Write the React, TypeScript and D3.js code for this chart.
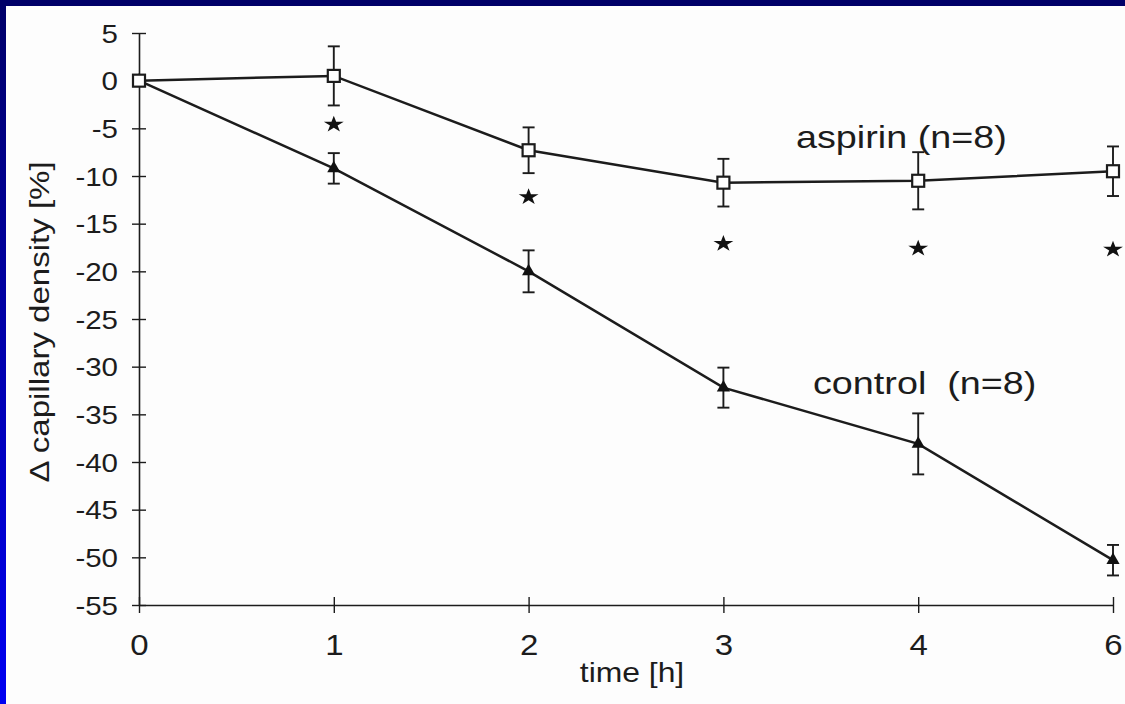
import React, { useEffect, useRef } from "react";
import * as d3 from "d3";

// time points (h) and group means / SD
const timeLabels = ["0", "1", "2", "3", "4", "6"];
const aspirinMean = [0, 0.5, -7.3, -10.7, -10.5, -9.5];
const aspirinErr = [0, 3.1, 2.4, 2.5, 3.0, 2.6];
const controlMean = [0, -9.2, -20.0, -32.2, -38.1, -50.3];
const controlErr = [0, 1.6, 2.2, 2.1, 3.2, 1.6];

// significance stars
const sigTimes = ["1", "2", "3", "4", "6"];
const sigMarkY = [-4.6, -12.2, -17.1, -17.6, -17.7];

const yTicks = [5, 0, -5, -10, -15, -20, -25, -30, -35, -40, -45, -50, -55];

const WIDTH = 1125;
const HEIGHT = 704;
const FONT = "'Liberation Sans', Arial, sans-serif";
const INK = "#1c1c1c";
const SX = 1.18; // the scanned figure is a bit stretched horizontally

const App: React.FC = () => {
  const svgRef = useRef<SVGSVGElement | null>(null);

  useEffect(() => {
    draw();
  }, []);

  const draw = () => {
    if (!svgRef.current) return;
    const svg = d3.select(svgRef.current);
    svg.selectAll("*").remove();

    // frame: white panel with the blue slide border top and left
    const defs = svg.append("defs");
    const grad = defs
      .append("linearGradient")
      .attr("id", "leftBar")
      .attr("x1", 0)
      .attr("y1", 0)
      .attr("x2", 0)
      .attr("y2", 1);
    grad.append("stop").attr("offset", "0%").attr("stop-color", "#000068");
    grad.append("stop").attr("offset", "100%").attr("stop-color", "#0000f2");

    svg.append("rect").attr("width", WIDTH).attr("height", HEIGHT).attr("fill", "#fdfdfd");
    svg.append("rect").attr("width", 6).attr("height", HEIGHT).attr("fill", "url(#leftBar)");
    svg.append("rect").attr("width", WIDTH).attr("height", 6).attr("fill", "#000068");

    const x = d3.scalePoint<string>().domain(timeLabels).range([139, 1113]);
    const y = d3.scaleLinear().domain([-55, 5]).range([605, 33]);

    // y axis (plain hyphen as in the original, not d3's unicode minus)
    const yAxis = svg
      .append("g")
      .attr("transform", `translate(${x("0")},0)`)
      .call(
        d3
          .axisLeft(y)
          .tickValues(yTicks)
          .tickFormat((d) => String(d))
          .tickSizeOuter(0)
          .tickSizeInner(7)
      );
    yAxis.select(".domain").attr("stroke", INK).attr("stroke-width", 1.6);
    yAxis.selectAll(".tick line").attr("x1", 7).attr("x2", -7).attr("stroke", INK).attr("stroke-width", 1.4);
    yAxis
      .selectAll(".tick text")
      .attr("x", null)
      .attr("dy", null)
      .attr("text-anchor", "end")
      .attr("transform", `translate(-21,9) scale(${SX},1)`)
      .attr("font-family", FONT)
      .attr("font-size", 25)
      .attr("fill", INK);

    // x axis
    const xAxis = svg
      .append("g")
      .attr("transform", `translate(0,${y(-55)})`)
      .call(d3.axisBottom(x).tickSizeOuter(0).tickSizeInner(8));
    xAxis.select(".domain").attr("stroke", INK).attr("stroke-width", 1.6);
    xAxis.selectAll(".tick line").attr("y1", -8).attr("y2", 8).attr("stroke", INK).attr("stroke-width", 1.4);
    xAxis
      .selectAll(".tick text")
      .attr("y", null)
      .attr("dy", null)
      .attr("transform", `translate(0,50) scale(1.1,1)`)
      .attr("font-family", FONT)
      .attr("font-size", 30)
      .attr("fill", INK);

    // axis titles
    svg
      .append("text")
      .attr("transform", `translate(632,682) scale(${SX},1)`)
      .attr("text-anchor", "middle")
      .attr("font-family", FONT)
      .attr("font-size", 27)
      .attr("fill", INK)
      .text("time [h]");

    svg
      .append("text")
      .attr("transform", `translate(49,322) rotate(-90) scale(${SX},1)`)
      .attr("text-anchor", "middle")
      .attr("font-family", FONT)
      .attr("font-size", 28)
      .attr("fill", INK)
      .text("\u0394 capillary density [%]");

    const line = d3
      .line<number>()
      .x((_, i) => x(timeLabels[i]) as number)
      .y((d) => y(d));

    const drawErrors = (mean: number[], err: number[]) => {
      const g = svg.append("g").attr("stroke", INK).attr("stroke-width", 1.9);
      mean.forEach((m, i) => {
        if (!err[i]) return;
        const cx = x(timeLabels[i]) as number;
        const top = y(m + err[i]);
        const bot = y(m - err[i]);
        g.append("line").attr("x1", cx).attr("x2", cx).attr("y1", top).attr("y2", bot);
        g.append("line").attr("x1", cx - 6).attr("x2", cx + 6).attr("y1", top).attr("y2", top);
        g.append("line").attr("x1", cx - 6).attr("x2", cx + 6).attr("y1", bot).attr("y2", bot);
      });
    };

    // control series (filled triangles)
    drawErrors(controlMean, controlErr);
    svg
      .append("path")
      .datum(controlMean)
      .attr("d", line)
      .attr("fill", "none")
      .attr("stroke", INK)
      .attr("stroke-width", 2.5);
    svg
      .append("g")
      .selectAll("path")
      .data(controlMean)
      .join("path")
      .attr("transform", (d, i) => `translate(${x(timeLabels[i])},${y(d)})`)
      .attr("d", d3.symbol(d3.symbolTriangle, 75)())
      .attr("fill", "#111");

    // aspirin series (open squares)
    drawErrors(aspirinMean, aspirinErr);
    svg
      .append("path")
      .datum(aspirinMean)
      .attr("d", line)
      .attr("fill", "none")
      .attr("stroke", INK)
      .attr("stroke-width", 2.5);
    svg
      .append("g")
      .selectAll("rect")
      .data(aspirinMean)
      .join("rect")
      .attr("x", (_, i) => (x(timeLabels[i]) as number) - 6)
      .attr("y", (d) => y(d) - 6)
      .attr("width", 12)
      .attr("height", 12)
      .attr("fill", "#fff")
      .attr("stroke", INK)
      .attr("stroke-width", 2.2);

    // significance stars
    svg
      .append("g")
      .selectAll("path")
      .data(sigMarkY)
      .join("path")
      .attr("transform", (d, i) => `translate(${x(sigTimes[i])},${y(d)}) scale(1.2,1)`)
      .attr("d", d3.symbol(d3.symbolStar, 85)())
      .attr("fill", "#111");

    // series labels
    svg
      .append("text")
      .attr("transform", `translate(796,148) scale(${SX},1)`)
      .attr("font-family", FONT)
      .attr("font-size", 32)
      .attr("fill", INK)
      .text("aspirin (n=8)");

    svg
      .append("text")
      .attr("transform", `translate(813,394) scale(${SX},1)`)
      .attr("font-family", FONT)
      .attr("font-size", 32)
      .attr("fill", INK)
      .attr("xml:space", "preserve")
      .style("white-space", "pre")
      .text("control  (n=8)");
  };

  return (
    <svg
      ref={svgRef}
      width={WIDTH}
      height={HEIGHT}
      style={{ position: "absolute", left: 0, top: 0, display: "block" }}
    />
  );
};

export default App;
